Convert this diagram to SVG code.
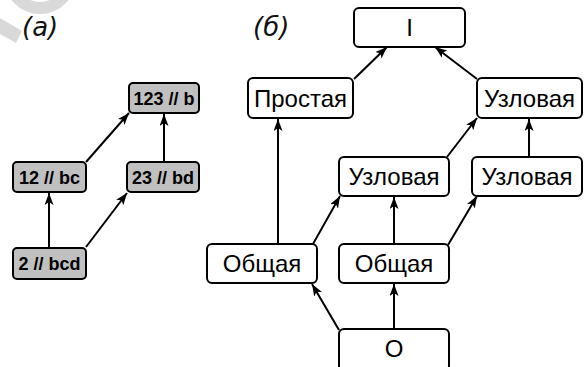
<svg xmlns="http://www.w3.org/2000/svg" width="585" height="367" viewBox="0 0 585 367">
<style>
.g rect{fill:#c0c0c0;stroke:#000;stroke-width:2}
.g text{font-family:"Liberation Sans",Arial,sans-serif;font-weight:bold;font-size:18px;text-anchor:middle;fill:#000}
.w rect{fill:#fff;stroke:#000;stroke-width:2}
.w text{font-family:"Liberation Sans",Arial,sans-serif;font-size:24px;text-anchor:middle;fill:#000}
.lbl{font-family:"DejaVu Sans",Verdana,sans-serif;font-style:italic;font-size:26px;fill:#111}
#edges line{stroke:#000;stroke-width:2;marker-end:url(#ah)}
</style>
<defs>
<marker id="ah" markerUnits="userSpaceOnUse" markerWidth="13" markerHeight="10" refX="12" refY="4.5" orient="auto">
<path d="M0,0 L12,4.5 L0,9 L3,4.5 z" fill="#000"/>
</marker>
</defs>
<rect width="585" height="367" fill="#fff"/>
<g id="watermark" fill="#d9d9d9" stroke="none">
<circle cx="40" cy="-22" r="30" fill="none" stroke="#d9d9d9" stroke-width="12"/>
<polygon points="0,18 22,31 16,43 0,34"/>
</g>
<text class="lbl" x="22" y="35.5">(а)</text>
<text class="lbl" x="253" y="35.5">(б)</text>
<g id="edges">
<line x1="86" y1="162" x2="129" y2="113"/>
<line x1="164" y1="161" x2="164" y2="114"/>
<line x1="49" y1="248" x2="49" y2="193"/>
<line x1="86" y1="247" x2="127" y2="193"/>
<line x1="354" y1="79" x2="387" y2="47"/>
<line x1="477" y1="79" x2="435" y2="47"/>
<line x1="278" y1="244" x2="278" y2="119"/>
<line x1="313" y1="244" x2="340" y2="196"/>
<line x1="447" y1="157" x2="477" y2="118"/>
<line x1="529" y1="157" x2="529" y2="119"/>
<line x1="394" y1="244" x2="394" y2="197"/>
<line x1="448" y1="245" x2="477" y2="196"/>
<line x1="339" y1="330" x2="312" y2="284"/>
<line x1="394" y1="329" x2="394" y2="284"/>
</g>
<g id="n123b" class="g"><rect x="129" y="83" width="70" height="30" rx="4"/><text x="164" y="104.5">123 // b</text></g>
<g id="n12bc" class="g"><rect x="13" y="162" width="73" height="30" rx="4"/><text x="49.5" y="183.5">12 // bc</text></g>
<g id="n23bd" class="g"><rect x="127" y="162" width="72" height="30" rx="4"/><text x="163" y="183.5">23 // bd</text></g>
<g id="n2bcd" class="g"><rect x="13" y="248" width="73" height="31" rx="4"/><text x="49.5" y="270">2 // bcd</text></g>
<g id="nI" class="w"><rect x="354" y="8" width="111" height="39" rx="5"/><text x="409.5" y="36">I</text></g>
<g id="nProst" class="w"><rect x="248" y="78" width="105" height="40" rx="5"/><text x="300.5" y="106.5">Простая</text></g>
<g id="nUzTop" class="w"><rect x="477" y="78" width="105" height="40" rx="5"/><text x="529.5" y="106.5">Узловая</text></g>
<g id="nUzMid" class="w"><rect x="339" y="157" width="110" height="39" rx="5"/><text x="394" y="185">Узловая</text></g>
<g id="nUzR" class="w"><rect x="472" y="157" width="110" height="39" rx="5"/><text x="527" y="185">Узловая</text></g>
<g id="nObL" class="w"><rect x="207" y="244" width="110" height="39" rx="5"/><text x="262" y="272">Общая</text></g>
<g id="nObM" class="w"><rect x="339" y="244" width="110" height="39" rx="5"/><text x="394" y="272">Общая</text></g>
<g id="nO" class="w"><rect x="339" y="329" width="110" height="42" rx="5"/><text x="394" y="357">O</text></g>
</svg>
